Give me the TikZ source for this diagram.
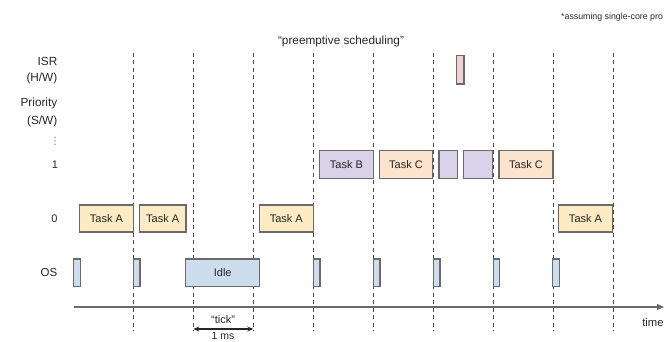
\documentclass[tikz,border=0pt]{standalone}
\usepackage{fontspec}
\setmainfont{Liberation Sans}
\newfontfamily\dejavu{DejaVu Sans}
\usetikzlibrary{arrows.meta}
\definecolor{edge}{HTML}{6A6A6A}
\definecolor{txt}{HTML}{262626}
\definecolor{dash}{HTML}{4A4A4A}
\definecolor{yA}{HTML}{FCEBC3}
\definecolor{oC}{HTML}{FCE3CD}
\definecolor{pB}{HTML}{D9D2E9}
\definecolor{bO}{HTML}{CCDDEE}
\definecolor{rI}{HTML}{EFD0D3}
\begin{document}
\begin{tikzpicture}[x=1pt,y=-1pt,
  box/.style={draw=edge, line width=1.2pt, inner sep=0pt, text=txt, font=\fontsize{11}{13}\selectfont},
  rowA/.style={box, fill=yA, minimum height=27pt},
  rowC/.style={box, fill=oC, minimum height=27.6pt},
  rowB/.style={box, fill=pB, minimum height=27.6pt},
  rowOS/.style={box, fill=bO, minimum height=27.7pt},
  lab/.style={text=txt, inner sep=0pt, font=\fontsize{11.8}{13}\selectfont},
  dashline/.style={draw=dash, line width=1.1pt, dash pattern=on 4pt off 3.5pt}]
\useasboundingbox (0,0) rectangle (665,342);

% dashed tick lines
\foreach \i in {0,...,8}{
  \coordinate (dt\i) at ({133.3+60*\i},53);
  \coordinate (db\i) at ({133.3+60*\i},331);
  \draw[dashline] (dt\i) -- (db\i);
}

% time axis
\coordinate (ax0) at (74,307);
\coordinate (ax1) at (664,307);
\draw[draw=edge, line width=1.1pt, -{Triangle[length=7pt,width=6pt]}] (ax0) -- (ax1);

% left labels
\node[lab, anchor=east] (isr) at (57.5,61) {ISR};
\node[lab, anchor=east] (hw) at (57.5,78.5) {(H/W)};
\node[lab, anchor=east] (prio) at (57.5,103) {Priority};
\node[lab, anchor=east] (sw) at (57.5,121) {(S/W)};
\node[text=edge, inner sep=0pt, font=\dejavu\fontsize{10}{11}\selectfont] (vd) at (55,141) {⋮};
\node[lab, font=\fontsize{11}{13}\selectfont] (p1) at (55,165) {1};
\node[lab, font=\fontsize{11}{13}\selectfont] (p0) at (54.5,218.5) {0};
\node[lab, anchor=east, font=\fontsize{11.5}{13}\selectfont] (os) at (57.5,273) {OS};

% title and note
\node[lab] (title) at (341,41.5) {``preemptive scheduling''};
\node[text=txt, inner sep=0pt, anchor=west, font=\fontsize{8.8}{10}\selectfont] (note) at (561,17) {*assuming single-core pro};

% ISR
\node[box, fill=rI, minimum width=7.3pt, minimum height=28.3pt] (isr1) at (460.3,69.8) {};

% priority 1 row
\node[rowB, minimum width=53.8pt] (tb) at (346.4,164.5) {Task B};
\node[rowC, minimum width=53.4pt] (tc1) at (406,164.5) {Task C};
\node[rowB, minimum width=18.3pt] (pb1) at (448.2,164.5) {};
\node[rowB, minimum width=29.4pt] (pb2) at (478,164.5) {};
\node[rowC, minimum width=54pt] (tc2) at (526,164.5) {Task C};

% priority 0 row
\node[rowA, minimum width=54.2pt] (ta1) at (106.4,218.5) {Task A};
\node[rowA, minimum width=46.7pt] (ta2) at (162.7,218.5) {Task A};
\node[rowA, minimum width=54pt] (ta3) at (286.3,218.5) {Task A};
\node[rowA, minimum width=54.4pt] (ta4) at (585.5,218.5) {Task A};

% OS row
\node[rowOS, minimum width=7.4pt] (os1) at (77,272.8) {};
\node[rowOS, minimum width=6.3pt] (os2) at (136.8,272.8) {};
\node[rowOS, minimum width=74pt] (idle) at (222.7,272.8) {Idle};
\node[rowOS, minimum width=6.7pt] (os4) at (316.7,272.8) {};
\node[rowOS, minimum width=6.7pt] (os5) at (376.7,272.8) {};
\node[rowOS, minimum width=6.7pt] (os6) at (436.7,272.8) {};
\node[rowOS, minimum width=6.2pt] (os7) at (496.3,272.8) {};
\node[rowOS, minimum width=6.6pt] (os8) at (556,272.8) {};

% tick measure
\coordinate (k1) at (193.3,329);
\coordinate (k2) at (253.3,329);
\draw[draw=txt, line width=1.2pt, {Stealth[length=6pt,width=5pt]}-{Stealth[length=6pt,width=5pt]}] (k1) -- (k2);
\node[lab, font=\fontsize{11}{13}\selectfont] (tick) at (223,319.5) {``tick''};
\node[lab, font=\fontsize{10.5}{12}\selectfont] (ms) at (223,336.3) {1 ms};
\node[lab, font=\fontsize{11.3}{13}\selectfont] (time) at (653,322) {time};
\end{tikzpicture}
\end{document}
